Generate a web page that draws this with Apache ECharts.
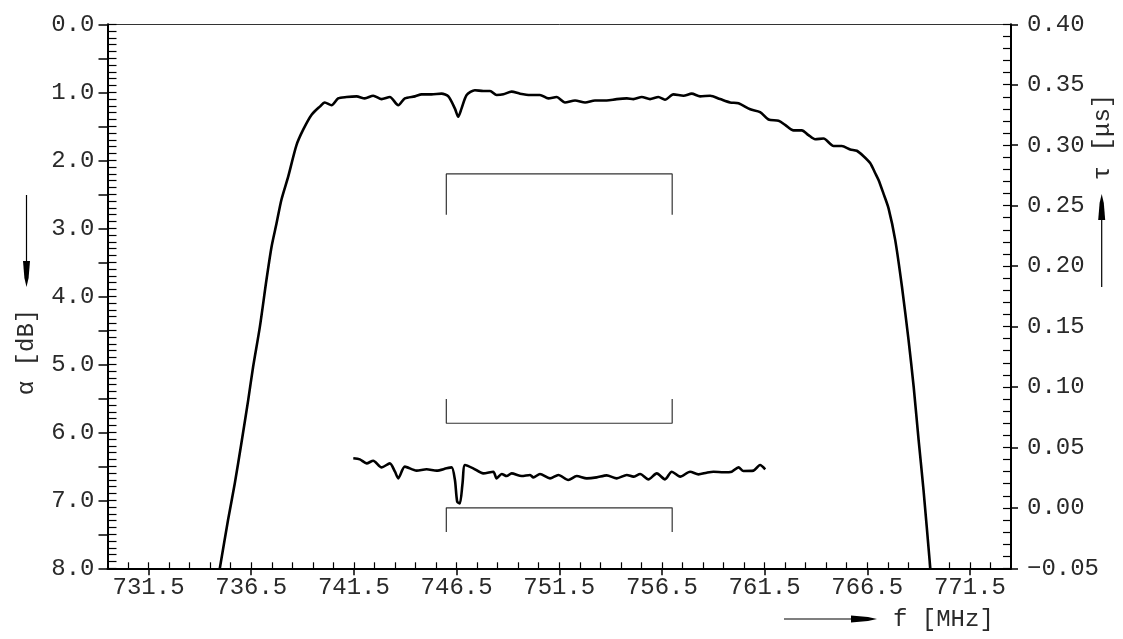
<!DOCTYPE html>
<html><head><meta charset="utf-8">
<script src="https://cdn.jsdelivr.net/npm/echarts@6/dist/echarts.min.js"></script>
<style>html,body{margin:0;padding:0;background:#fff}#c{width:1123px;height:639px}</style>
</head><body><div id="c"></div><script>
// Attenuation curve (left axis, dB) vs frequency (MHz)
const freqAlpha = [734.97,735.37,735.70,736.02,736.35,736.59,736.92,737.24,737.49,737.73,737.97,738.30,738.70,739.03,739.44,739.84,740.08,740.41,740.73,741.14,741.63,742.03,742.44,742.85,743.25,743.66,743.98,744.47,744.80,745.28,745.77,746.10,746.42,746.58,746.74,746.99,747.39,747.80,748.13,748.45,748.78,749.18,749.59,750.08,750.56,750.97,751.37,751.78,752.27,752.76,753.24,753.81,754.30,754.79,755.11,755.52,755.92,756.33,756.65,757.06,757.55,757.95,758.36,758.85,759.33,759.82,760.23,760.80,761.28,761.69,762.18,762.50,762.91,763.31,763.64,763.96,764.37,764.86,765.26,765.67,765.99,766.32,766.64,766.89,767.05,767.29,767.54,767.86,768.19,768.51,768.76,769.00,769.24,769.57];
const alphaDb = [8.00,7.29,6.75,6.16,5.53,5.04,4.45,3.76,3.27,2.93,2.58,2.24,1.78,1.55,1.33,1.21,1.15,1.19,1.09,1.07,1.06,1.09,1.05,1.10,1.07,1.19,1.09,1.06,1.03,1.03,1.02,1.06,1.24,1.36,1.24,1.04,0.97,0.98,0.98,1.04,1.03,0.99,1.02,1.04,1.04,1.09,1.07,1.15,1.12,1.15,1.12,1.12,1.10,1.09,1.10,1.07,1.10,1.07,1.11,1.03,1.05,1.02,1.06,1.05,1.10,1.15,1.16,1.25,1.29,1.40,1.42,1.48,1.56,1.56,1.63,1.69,1.68,1.79,1.79,1.84,1.86,1.94,2.04,2.19,2.29,2.49,2.71,3.17,3.86,4.64,5.33,6.11,6.85,8.00];
// Group delay curve (right axis, microseconds) vs frequency (MHz)
const freqTau = [741.47,741.79,742.12,742.44,742.85,743.25,743.50,743.66,743.98,744.55,745.04,745.53,746.01,746.26,746.42,746.53,746.66,746.79,746.91,747.31,747.80,748.29,748.45,748.70,748.94,749.18,749.67,750.08,750.24,750.56,751.05,751.46,751.94,752.35,752.84,753.32,753.81,754.30,754.79,755.11,755.44,755.84,756.25,756.65,756.98,757.39,757.87,758.28,758.68,759.01,759.50,759.90,760.23,760.47,760.96,761.28,761.53];
const tauUs = [0.0410,0.0401,0.0368,0.0390,0.0335,0.0368,0.0299,0.0244,0.0341,0.0308,0.0319,0.0308,0.0327,0.0335,0.0230,0.0051,0.0037,0.0203,0.0354,0.0327,0.0285,0.0299,0.0244,0.0280,0.0263,0.0285,0.0263,0.0272,0.0252,0.0280,0.0244,0.0272,0.0230,0.0263,0.0244,0.0252,0.0269,0.0244,0.0272,0.0258,0.0280,0.0236,0.0285,0.0236,0.0299,0.0258,0.0299,0.0277,0.0291,0.0299,0.0294,0.0299,0.0335,0.0305,0.0308,0.0354,0.0319];
// Tolerance masks
const maskFreq = [746, 746, 757, 757];
const maskAlpha = [2.8, 2.2, 2.2, 2.8];
const maskTauUpper = [0.09, 0.07, 0.07, 0.09];
const maskTauLower = [-0.02, 0.0, 0.0, -0.02];
// Tick labels
const xTickLabels = [731.5, 736.5, 741.5, 746.5, 751.5, 756.5, 761.5, 766.5, 771.5];
const alphaTickLabels = [0, 1, 2, 3, 4, 5, 6, 7, 8];
const tauTickLabels = [-0.05, 0.00, 0.05, 0.10, 0.15, 0.20, 0.25, 0.30, 0.35, 0.40];

const xMinor = []; for (let i = 0; i <= 42; i++) xMinor.push(730.5 + i);
const leftOuter = []; for (let i = 0; i <= 16; i++) leftOuter.push(i / 2);
const leftInner = []; for (let i = 0; i <= 80; i++) leftInner.push(i / 10);
const rightInner = []; for (let i = -5; i <= 40; i++) rightInner.push(i / 100);

const FONT = 'Liberation Mono';
const FS = 24;
const TXT = '#2a2a2a';
const X0 = 729.5, X1 = 773.5;

const chart = echarts.init(document.getElementById('c'), null, {renderer: 'canvas'});
const pair = (xs, ys) => xs.map((x, i) => [x, ys[i]]);

const hiddenAxisBits = {axisLabel: {show: false}, splitLine: {show: false}};

chart.setOption({
  animation: false,
  backgroundColor: '#fff',
  grid: {left: 107.5, right: 112, top: 24.3, bottom: 70.7, containLabel: false, outerBoundsMode: 'none'},
  xAxis: [
    {type: 'value', position: 'bottom', min: X0, max: X1,
     axisLine: {onZero: false, lineStyle: {color: '#000', width: 2}},
     axisTick: {customValues: xTickLabels, inside: false, length: 7, lineStyle: {color: '#000', width: 1.5}},
     axisLabel: {customValues: xTickLabels, margin: 7, fontFamily: FONT, fontSize: FS, color: TXT,
                 formatter: v => v.toFixed(1)},
     splitLine: {show: false}},
    Object.assign({type: 'value', position: 'bottom', min: X0, max: X1,
     axisLine: {show: false, onZero: false},
     axisTick: {customValues: xMinor, inside: true, length: 6, lineStyle: {color: '#000', width: 1.2}}}, hiddenAxisBits),
    Object.assign({type: 'value', position: 'top', min: X0, max: X1,
     axisLine: {onZero: false, lineStyle: {color: '#333', width: 1}},
     axisTick: {show: false}}, hiddenAxisBits)
  ],
  yAxis: [
    {type: 'value', position: 'left', inverse: true, min: 0, max: 8,
     axisLine: {onZero: false, lineStyle: {color: '#000', width: 2}},
     axisTick: {customValues: leftOuter, inside: false, length: 9, lineStyle: {color: '#000', width: 1.5}},
     axisLabel: {customValues: alphaTickLabels, margin: 13, fontFamily: FONT, fontSize: FS, color: TXT,
                 formatter: v => v.toFixed(1)},
     splitLine: {show: false}},
    Object.assign({type: 'value', position: 'left', inverse: true, min: 0, max: 8,
     axisLine: {show: false, onZero: false},
     axisTick: {customValues: leftInner, inside: true, length: 9, lineStyle: {color: '#000', width: 1.2}}}, hiddenAxisBits),
    {type: 'value', position: 'right', min: -0.05, max: 0.40,
     axisLine: {onZero: false, lineStyle: {color: '#000', width: 2}},
     axisTick: {customValues: tauTickLabels, inside: false, length: 7, lineStyle: {color: '#000', width: 1.5}},
     axisLabel: {customValues: tauTickLabels, margin: 16, fontFamily: FONT, fontSize: FS, color: TXT,
                 formatter: v => (v < 0 ? '\u2212' : '') + Math.abs(v).toFixed(2)},
     splitLine: {show: false}},
    Object.assign({type: 'value', position: 'right', min: -0.05, max: 0.40,
     axisLine: {show: false, onZero: false},
     axisTick: {customValues: rightInner, inside: true, length: 8, lineStyle: {color: '#000', width: 1.2}}}, hiddenAxisBits)
  ],
  series: [
    {name: 'alpha', type: 'line', xAxisIndex: 0, yAxisIndex: 0, data: pair(freqAlpha, alphaDb),
     showSymbol: false, smooth: 0.25, lineStyle: {color: '#000', width: 2.6, join: 'round'}, z: 5},
    {name: 'tau', type: 'line', xAxisIndex: 0, yAxisIndex: 2, data: pair(freqTau, tauUs),
     showSymbol: false, smooth: 0.25, lineStyle: {color: '#000', width: 2.6, join: 'round'}, z: 5},
    {name: 'maskAlpha', type: 'line', xAxisIndex: 0, yAxisIndex: 0, data: pair(maskFreq, maskAlpha),
     showSymbol: false, lineStyle: {color: '#333', width: 1.2}},
    {name: 'maskTauUpper', type: 'line', xAxisIndex: 0, yAxisIndex: 2, data: pair(maskFreq, maskTauUpper),
     showSymbol: false, lineStyle: {color: '#333', width: 1.2}},
    {name: 'maskTauLower', type: 'line', xAxisIndex: 0, yAxisIndex: 2, data: pair(maskFreq, maskTauLower),
     showSymbol: false, lineStyle: {color: '#333', width: 1.2}}
  ],
  graphic: [
    // left axis name + arrow (pointing down)
    {type: 'line', shape: {x1: 26.5, y1: 195, x2: 26.5, y2: 275}, style: {stroke: '#000', lineWidth: 1.2}},
    {type: 'polygon', shape: {points: [[23, 261], [30, 261], [28.6, 278], [26.5, 287], [24.4, 278]]}, style: {fill: '#000'}},
    {type: 'text', x: 27, y: 352, rotation: Math.PI / 2,
     style: {text: '\u03b1 [dB]', fontFamily: FONT, fontSize: FS, fill: TXT, align: 'center', verticalAlign: 'middle'}},
    // right axis name + arrow (pointing up)
    {type: 'line', shape: {x1: 1101.7, y1: 287, x2: 1101.7, y2: 205}, style: {stroke: '#000', lineWidth: 1.2}},
    {type: 'polygon', shape: {points: [[1098.2, 220], [1105.2, 220], [1103.8, 203], [1101.7, 194], [1099.6, 203]]}, style: {fill: '#000'}},
    {type: 'text', x: 1103, y: 137, rotation: Math.PI / 2,
     style: {text: '\u03c4 [\u03bcs]', fontFamily: FONT, fontSize: FS, fill: TXT, align: 'center', verticalAlign: 'middle'}},
    // bottom axis name + arrow (pointing right)
    {type: 'line', shape: {x1: 784, y1: 619, x2: 862, y2: 619}, style: {stroke: '#000', lineWidth: 1.2}},
    {type: 'polygon', shape: {points: [[851, 615.5], [851, 622.5], [868, 621], [877, 619], [868, 617]]}, style: {fill: '#000'}},
    {type: 'text', x: 893, y: 620,
     style: {text: 'f [MHz]', fontFamily: FONT, fontSize: FS, fill: TXT, align: 'left', verticalAlign: 'middle'}}
  ]
});
</script></body></html>
